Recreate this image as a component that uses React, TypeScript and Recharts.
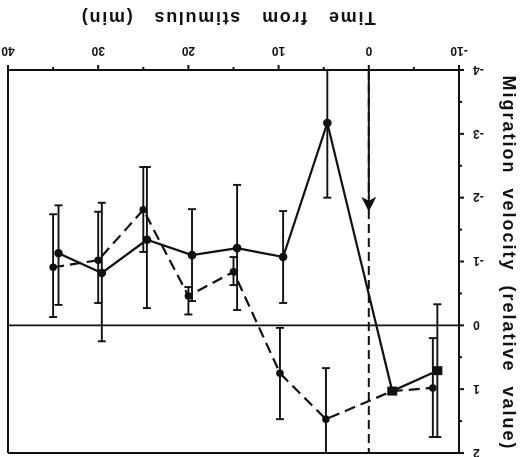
import React from 'react';
import { LineChart, Line, XAxis, YAxis, ErrorBar, ReferenceLine, ReferenceDot } from 'recharts';

// Time from stimulus (min)
const solidTimes = [34.4, 29.6, 24.6, 19.6, 14.6, 9.5, 4.6, -2.6, -7.6];
const solidValues = [-1.13, -0.82, -1.34, -1.1, -1.21, -1.07, -3.17, 1.03, 0.71];
const solidErrLow = [0.75, 1.1, 1.14, 0.72, 0.99, 0.72, 0.83, 0, 1.04];
const solidErrHigh = [0.81, 1.07, 1.07, 0.72, 0.97, 0.72, 1.17, 0, 1.04];
const solidMarkers = ['circle', 'circle', 'circle', 'circle', 'circle', 'circle', 'circle', 'square', 'square'];

const dashedTimes = [35.0, 30.0, 25.0, 20.0, 15.0, 9.85, 4.75, -2.6, -7.1];
const dashedValues = [-0.91, -1.02, -1.81, -0.46, -0.84, 0.75, 1.47, 1.03, 0.98];
const dashedErrLow = [0.83, 0.76, 0.67, 0.14, 0.23, 0.71, 0.8, 0, 0.78];
const dashedErrHigh = [0.78, 0.67, 0.66, 0.29, 0.21, 0.72, 0.53, 0, 0.77];

const xTicks = [-10, -5, 0, 5, 10, 15, 20, 25, 30, 35, 40];
const yTicks = [-4, -3.5, -3, -2.5, -2, -1.5, -1, -0.5, 0, 0.5, 1, 1.5, 2];

const xTitle = 'Time\u00A0\u00A0\u00A0from\u00A0\u00A0\u00A0stimulus\u00A0\u00A0\u00A0(min)';
const yTitle = 'Migration\u00A0\u00A0velocity\u00A0\u00A0(relative\u00A0\u00A0value)';

const stimulusTime = 0;
const arrowBase = -2.0;
const arrowTip = -1.78;

const solidData = solidTimes.map((t, i) => ({
  t,
  v: solidValues[i],
  err: [solidErrLow[i], solidErrHigh[i]],
  marker: solidMarkers[i],
}));
const dashedData = dashedTimes.map((t, i) => ({
  t,
  v: dashedValues[i],
  err: [dashedErrLow[i], dashedErrHigh[i]],
  marker: 'circle',
}));

const FONT = '"Liberation Sans", Arial, Helvetica, sans-serif';
const INK = '#111';

const renderDot = (p: any, prefix: string, r: number) => {
  const { cx, cy, payload, index } = p;
  if (cx == null || cy == null) return <g key={`${prefix}-${index}`} />;
  if (payload && payload.marker === 'square') {
    return <rect key={`${prefix}-${index}`} x={cx - 5} y={cy - 4.5} width={10} height={9} fill={INK} />;
  }
  return <circle key={`${prefix}-${index}`} cx={cx} cy={cy} r={r} fill={INK} />;
};

const XTick = (props: any) => {
  const { x, y, payload } = props;
  const major = payload.value % 10 === 0;
  const axisY = y - 14;
  return (
    <g>
      <line x1={x} x2={x} y1={axisY} y2={axisY + (major ? 5 : 3)} stroke={INK} strokeWidth={2} />
      {major && (
        <text x={x} y={y} dy="0.71em" textAnchor="middle" fontSize={12} fontWeight="bold" fill={INK} fontFamily={FONT}>
          {String(payload.value)}
        </text>
      )}
    </g>
  );
};

const YTick = (props: any) => {
  const { x, y, payload } = props;
  const major = Number.isInteger(payload.value);
  const axisX = x + 14;
  return (
    <g>
      <line x1={axisX} x2={axisX - (major ? 5 : 3)} y1={y} y2={y} stroke={INK} strokeWidth={2} />
      {major && (
        <text x={x} y={y} dy="0.36em" textAnchor="end" fontSize={12} fontWeight="bold" fill={INK} fontFamily={FONT}>
          {String(payload.value)}
        </text>
      )}
    </g>
  );
};

export default function App() {
  return (
    <div
      style={{
        position: 'fixed',
        left: 0,
        top: 0,
        width: 526,
        height: 457,
        background: '#fff',
        transform: 'rotate(180deg)',
        fontFamily: FONT,
      }}
    >
      <LineChart width={526} height={457} margin={{ top: 4, right: 8, left: 0, bottom: 0 }}>
        <XAxis
          type="number"
          dataKey="t"
          domain={[-10, 40]}
          ticks={xTicks}
          interval={0}
          height={70}
          tickLine={false}
          tickSize={0}
          tickMargin={14}
          tick={<XTick />}
          axisLine={{ stroke: INK, strokeWidth: 2 }}
          allowDataOverflow
        />
        <YAxis
          type="number"
          domain={[-4, 2]}
          ticks={yTicks}
          interval={0}
          width={67}
          tickLine={false}
          tickSize={0}
          tickMargin={14}
          tick={<YTick />}
          axisLine={{ stroke: INK, strokeWidth: 2 }}
          allowDataOverflow
        />
        <ReferenceLine y={2} stroke={INK} strokeWidth={2} />
        <ReferenceLine x={40} stroke={INK} strokeWidth={2} />
        <ReferenceLine y={0} stroke={INK} strokeWidth={1.6} />
        <ReferenceLine x={stimulusTime} stroke={INK} strokeWidth={2} strokeDasharray="9 5" />
        <ReferenceLine
          segment={[
            { x: stimulusTime, y: -4 },
            { x: stimulusTime, y: arrowBase },
          ]}
          stroke={INK}
          strokeWidth={2}
        />
        <ReferenceDot
          x={stimulusTime}
          y={arrowTip}
          r={0}
          shape={(p: any) => (
            <polygon
              points={`${p.cx},${p.cy} ${p.cx - 7.5},${p.cy + 15} ${p.cx},${p.cy + 11} ${p.cx + 7.5},${p.cy + 15}`}
              fill={INK}
            />
          )}
        />
        <Line
          data={dashedData}
          dataKey="v"
          stroke={INK}
          strokeWidth={2.2}
          strokeDasharray="11 6"
          dot={(p: any) => renderDot(p, 'd', 3.8)}
          activeDot={false}
          isAnimationActive={false}
        >
          <ErrorBar dataKey="err" direction="y" width={4} stroke={INK} strokeWidth={1.9} isAnimationActive={false} />
        </Line>
        <Line
          data={solidData}
          dataKey="v"
          stroke={INK}
          strokeWidth={2.2}
          dot={(p: any) => renderDot(p, 's', 4.3)}
          activeDot={false}
          isAnimationActive={false}
        >
          <ErrorBar dataKey="err" direction="y" width={4} stroke={INK} strokeWidth={1.9} isAnimationActive={false} />
        </Line>
      </LineChart>
      <svg width={526} height={457} style={{ position: 'absolute', left: 0, top: 0, pointerEvents: 'none' }}>
        <text
          x={298}
          y={445}
          textAnchor="middle"
          fontSize={18}
          fontWeight="bold"
          letterSpacing={1.7}
          fill={INK}
          fontFamily={FONT}
        >
          {xTitle}
        </text>
        <text
          x={23}
          y={194}
          transform="rotate(-90, 23, 194)"
          textAnchor="middle"
          fontSize={18}
          fontWeight="bold"
          letterSpacing={2.0}
          fill={INK}
          fontFamily={FONT}
        >
          {yTitle}
        </text>
      </svg>
    </div>
  );
}
